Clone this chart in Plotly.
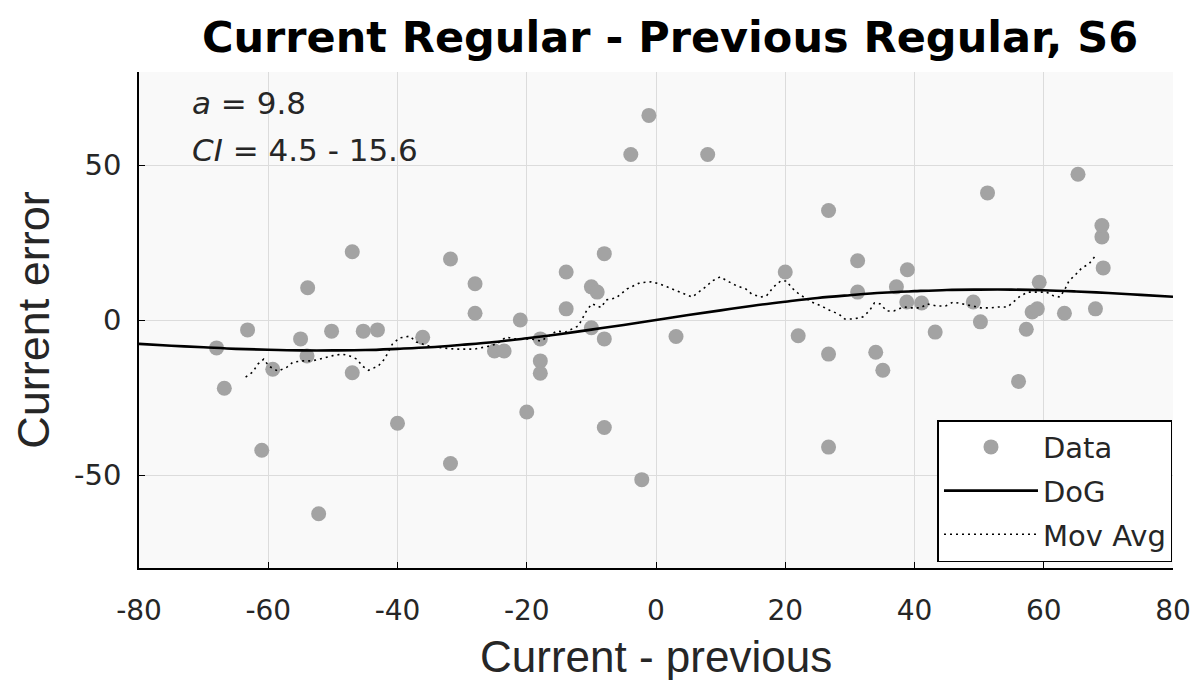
import plotly.graph_objects as go

# ---- data ----
data_x = [-68, -66.8, -63.2, -61, -59.3, -55, -54, -53.9, -52.2, -50.2, -47, -47, -45.3, -43.1,
          -40, -36.1, -31.8, -31.8, -28, -28, -25, -23.5, -21, -20, -17.9, -17.9, -17.9,
          -13.9, -13.9, -10, -9.1, -10, -8, -8, -8, -3.9, -2.2, -1.1, 3.1, 8, 20, 22,
          26.7, 26.7, 26.7, 31.2, 31.2, 34, 35.1, 37.2, 38.9, 38.8, 41.1, 43.2, 49.1, 50.2,
          51.3, 56.1, 57.3, 58.2, 59, 59.3, 63.2, 65.3, 68, 69.2, 69, 69]
data_y = [-9, -22, -3.2, -42, -15.9, -6.1, -11.6, 10.4, -62.5, -3.6, 22, -17, -3.6, -3.2,
          -33.3, -5.6, 19.7, -46.3, 11.7, 2.2, -10, -10, 0, -29.7, -6.1, -13.2, -17.2,
          15.5, 3.6, 10.7, 9, -2.5, 21.4, -6.1, -34.7, 53.4, -51.5, 66, -5.3, 53.4, 15.5, -5.1,
          35.3, -11, -41, 19.1, 9, -10.4, -16.2, 10.7, 16.2, 5.8, 5.5, -3.9, 5.8, -0.6,
          41, -19.8, -3, 2.6, 3.6, 12.2, 2.2, 47, 3.6, 16.8, 26.8, 30.5]

dog_x = [-80, -75, -70, -65, -60, -55, -50, -45, -40, -35, -30, -25, -20, -15, -10, -5, 0,
         5, 10, 15, 20, 25, 30, 35, 40, 45, 50, 55, 60, 65, 70, 75, 80]
dog_y = [-7.7, -8.3, -8.8, -9.3, -9.6, -9.8, -9.8, -9.7, -9.3, -8.8, -8.0, -7.1, -5.9, -4.6,
         -3.1, -1.6, 0, 1.6, 3.1, 4.6, 5.9, 7.1, 8.0, 8.8, 9.3, 9.7, 9.8, 9.8, 9.6, 9.2, 8.7, 8.1, 7.5]

mov_x = [-63.5, -62.4, -61.6, -60.7, -59.9, -58.5, -57.1, -56.2, -54.7, -53.3, -52, -50, -48.6,
         -47.5, -46.3, -45.4, -44.5, -43, -42, -40.8, -39.7, -38.1, -37.1, -35, -33, -31, -29.7,
         -28.1, -26, -24.7, -23.2, -21.9, -19.3, -17.8, -15.4, -14, -12, -11.3, -10.7, -9.9, -8.5,
         -7.7, -6.2, -4.5, -2.5, -0.8, 0.5, 1.7, 3.2, 4.6, 5.6, 6.6, 7.7, 8.7, 9.9, 11.3, 12.5,
         13.9, 14.8, 16.2, 17.1, 18.2, 19.3, 20.2, 21, 22.1, 24.1, 25.6, 27, 28.3, 29.2, 30.6, 32,
         33, 33.8, 34.7, 35.7, 36.8, 38.3, 39.4, 40.9, 42, 43.4, 44.8, 46, 47.4, 48.8, 50.3, 51.7,
         53, 54.4, 55.4, 56.4, 57.6, 58.8, 60.4, 61.5, 62.5, 63.3, 63.9, 64.9, 65.9, 67, 68]
mov_y = [-18.4, -16.8, -14.2, -12.6, -14.9, -16.5, -15.2, -13.6, -13.2, -13.2, -12.6, -11.5, -11,
         -11.5, -12.6, -14.9, -16.2, -14.9, -12.6, -7.8, -5.8, -5.2, -7.1, -8.5, -9, -9.4, -9.4,
         -9.4, -8.5, -7.8, -5.5, -6.1, -6.1, -6.8, -3.6, -3.9, -1.9, 0.6, 3.2, 5.2, 4,
         6.5, 7.1, 10, 12, 12.3, 11.7, 10.7, 9.4, 8.4, 7.4, 9, 10.7, 12.6, 13.9, 12.3, 11,
         10, 8.4, 7.4, 7.8, 10.7, 12.6, 12.6, 10.4, 8.4, 5.8, 4.5, 3, 1.9, 0.3, 0.3, 1,
         2.9, 5.5, 5.2, 2.9, 2.9, 4.2, 3.9, 3.9, 5.2, 4.5, 4.5, 5.8, 5.2, 4.5, 3.9, 3.9,
         4.2, 4.2, 6.1, 7.8, 9, 9, 9, 7.8, 7.4, 10, 12.6, 14.6, 16.8, 18.1, 20.7]

x_ticks = [-80, -60, -40, -20, 0, 20, 40, 60, 80]
y_ticks = [-50, 0, 50]

title_text = "Current Regular - Previous Regular, S6"
x_title = "Current - previous"
y_title = "Current error"
fit_text = ["<i>a</i> = 9.8", "<i>CI</i> = 4.5 - 15.6"]

WIDE = "DejaVu Sans, Verdana, sans-serif"
ARIAL = "Liberation Sans, Arial, sans-serif"
TXT = "#262626"

fig = go.Figure()
fig.add_trace(go.Scatter(x=data_x, y=data_y, mode="markers", name="Data",
                         marker=dict(size=15, color="#a3a3a3"), legendgroup="a"))
fig.add_trace(go.Scatter(x=dog_x, y=dog_y, mode="lines", name="DoG", line_shape="spline",
                         line=dict(color="black", width=2.6), legendgroup="b"))
fig.add_trace(go.Scatter(x=mov_x, y=mov_y, mode="lines", name="Mov Avg",
                         line=dict(color="black", width=1.6, dash="2px,4px"), legendgroup="c"))

axis_common = dict(showgrid=True, gridcolor="#dcdcdc", gridwidth=1, zeroline=False,
                   showline=True, linecolor="black", linewidth=1.5, ticks="inside",
                   ticklen=6, tickcolor="black", automargin=False)

fig.update_xaxes(range=[-80, 80], tickvals=x_ticks, ticktext=[str(v) for v in x_ticks],
                 ticklabelstandoff=17, ticklabeloverflow="allow",
                 tickfont=dict(size=28, color=TXT, family=WIDE),
                 **axis_common)
fig.update_yaxes(range=[-80, 80], tickvals=y_ticks, ticktext=[str(v) for v in y_ticks],
                 ticklabelstandoff=10,
                 tickfont=dict(size=29, color=TXT, family=WIDE),
                 title=dict(text=y_title, font=dict(size=45, color=TXT, family=ARIAL),
                            standoff=10),
                 **axis_common)

# x-axis title placed as a paper annotation so that its vertical position can be matched
fig.add_annotation(x=0.5, y=-0.178, xref="paper", yref="paper", xanchor="center", yanchor="middle",
                   text=x_title, showarrow=False, font=dict(size=44, color=TXT, family=ARIAL))

fig.add_annotation(x=0.049, y=0.9375, xref="paper", yref="paper", xanchor="left", yanchor="middle",
                   text=fit_text[0], showarrow=False, align="left",
                   font=dict(size=31, color=TXT, family=WIDE))
fig.add_annotation(x=0.049, y=0.843, xref="paper", yref="paper", xanchor="left", yanchor="middle",
                   text=fit_text[1], showarrow=False, align="left",
                   font=dict(size=31, color=TXT, family=WIDE))

fig.update_layout(
    width=1183, height=672,
    margin=dict(l=131, r=18, t=64, b=112),
    paper_bgcolor="white", plot_bgcolor="#f9f9f9",
    title=dict(text="<b>" + title_text + "</b>", x=0.5596, xanchor="center", y=0.9565, yanchor="middle",
               font=dict(size=43, color="black", family=WIDE)),
    legend=dict(x=0.9995, y=0.012, xanchor="right", yanchor="bottom", bgcolor="white",
                bordercolor="black", borderwidth=1.5, font=dict(size=29, color=TXT, family=WIDE),
                itemwidth=94, tracegroupgap=3, traceorder="grouped"),
    showlegend=True,
)

fig.write_html("out.html")
